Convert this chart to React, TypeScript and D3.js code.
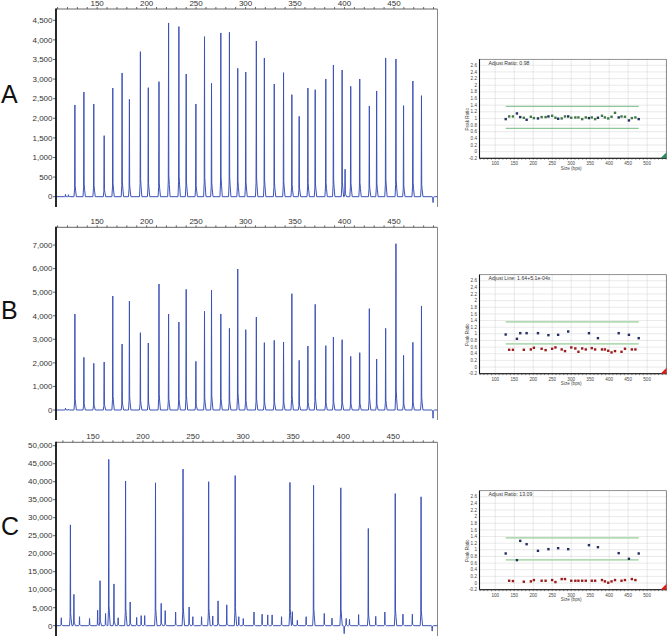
import React from "react";
import * as d3 from "d3";

// ladder fragment sizes (bp) shared by the three electropherograms
const ladderSizes = [127.5, 136.6, 146.6, 157.1, 165.8, 175.2, 182.6, 193.7, 201.7, 212.5, 222.2, 232.6, 240.0, 249.8, 258.5, 265.6, 275.0, 283.7, 292.1, 300.2, 310.9, 319.0, 329.0, 338.4, 346.8, 354.2, 363.0, 370.4, 381.1, 388.8, 397.6, 406.3, 415.4, 425.1, 432.5, 441.6, 452.0, 459.7, 469.1, 477.8];

const heightsA = [2340, 2670, 2365, 1557, 2773, 3156, 2484, 3700, 2781, 2935, 4432, 4338, 3130, 2365, 4083, 2892, 4177, 4194, 3275, 3181, 3972, 3539, 2875, 3164, 2603, 2050, 2773, 2730, 3003, 3360, 3232, 2815, 3003, 2314, 2697, 3539, 3513, 2323, 2952, 2577];
const heightsB = [4073, 2235, 1980, 2037, 4837, 2800, 4625, 3281, 2843, 5346, 4073, 3734, 5120, 2065, 4187, 5092, 4073, 3465, 5983, 3409, 3946, 2857, 2956, 2885, 4936, 2107, 2716, 4484, 2730, 3098, 2984, 2277, 2433, 4300, 2164, 3465, 7058, 2320, 2871, 4413];
const heightsC = [28000, 2500, 2000, 12500, 46200, 2200, 40200, 2300, 2800, 39700, 4200, 3800, 43500, 2500, 2500, 40000, 6900, 5800, 41700, 2000, 3800, 3200, 3000, 2500, 39800, 1500, 2500, 39000, 3400, 2100, 38300, 1800, 3100, 27000, 2600, 3800, 36700, 3200, 3200, 35800];

// extra (non-ladder) peaks and dips: [size, height]
const extraA: [number, number][] = [[118, 60], [121, 50], [400.6, 700], [489.5, -150]];
const extraB: [number, number][] = [[118, 80], [121, 40], [489.5, -350]];
const extraC: [number, number][] = [[118.4, 2200], [131.0, 8700], [154.7, 4300], [162.6, 3400], [171.0, 11600], [187.2, 6600], [198.2, 2800], [218.2, 6200], [246.1, 5200], [269.7, 2700], [295.7, 2500], [324.6, 3000], [349.2, 3900], [401.0, -2200], [403.0, 2000], [488.9, -1500]];

// peak ratio panels
const ratiosA = [0.98, 1.06, 1.06, 1.15, 1.04, 1.02, 0.96, 1.05, 1.01, 1.0, 1.04, 1.04, 1.06, 1.08, 1.02, 0.99, 1.0, 1.06, 1.06, 1.02, 1.03, 1.03, 0.98, 1.03, 1.01, 1.03, 0.98, 1.02, 1.08, 1.03, 1.0, 1.05, 1.17, 1.03, 1.06, 1.05, 0.94, 1.01, 1.03, 0.98];
const ratiosB = [0.98, 0.52, 0.52, 0.85, 1.02, 0.52, 1.02, 0.53, 0.58, 1.02, 0.55, 0.51, 0.96, 0.55, 0.59, 0.97, 0.53, 0.48, 1.07, 0.59, 0.56, 0.46, 0.56, 0.53, 1.02, 0.57, 0.53, 0.87, 0.53, 0.53, 0.49, 0.44, 0.48, 1.02, 0.46, 0.55, 0.97, 0.53, 0.53, 0.87];
const ratiosC = [0.89, 0.07, 0.06, 0.69, 1.27, 0.04, 1.17, 0.05, 0.09, 0.97, 0.07, 0.07, 1.02, 0.09, 0.03, 1.05, 0.12, 0.12, 1.02, 0.07, 0.07, 0.07, 0.07, 0.07, 1.14, 0.07, 0.07, 1.08, 0.09, 0.05, 0.01, 0.05, 0.09, 0.9, 0.07, 0.09, 0.73, 0.12, 0.09, 0.89];
const highGroup = [0, 3, 4, 6, 9, 12, 15, 18, 24, 27, 33, 36, 39];

const LEFT = 56;
const RIGHT = 437.5;
const FONT = "'Liberation Sans', Arial, sans-serif";
const peakShape = [[-0.9, 0], [-0.3, 0.09], [0, 1], [0.25, 0.12], [0.7, 0.07], [1.5, 0]];

function Trace({ top, bottom, xDomain, yDomain, yMax, yStep, heights, extra, letter, letterY }) {
  const x = d3.scaleLinear().domain(xDomain).range([LEFT, RIGHT]);
  const y = d3.scaleLinear().domain(yDomain).range([bottom, top]);
  const peaks = ladderSizes
    .map((s, i) => [s, heights[i]] as [number, number])
    .concat(extra)
    .sort((a, b) => a[0] - b[0]);
  const pts: [number, number][] = [[xDomain[0], 0]];
  peaks.forEach(([s, h]) => peakShape.forEach(([dx, f]) => pts.push([s + dx, h * f])));
  pts.push([xDomain[1], 0]);
  const line = d3.line<[number, number]>().x((d) => x(d[0])).y((d) => y(d[1]));
  const yTicks = d3.range(0, yMax + 1, yStep);
  const minor = d3.range(Math.ceil(xDomain[0] / 10) * 10, xDomain[1], 10);
  const fmt = d3.format(",");
  return (
    <g>
      <text x={1} y={letterY} fontSize={25} fontFamily={FONT} fill="#111">{letter}</text>
      <line x1={LEFT} x2={RIGHT} y1={top} y2={top} stroke="#666" strokeWidth={1} />
      <line x1={RIGHT} x2={RIGHT} y1={top} y2={bottom} stroke="#888" strokeWidth={1} />
      {minor.map((v) => (
        <line key={v} x1={x(v)} x2={x(v)} y1={top} y2={top - 2} stroke="#444" strokeWidth={0.8} />
      ))}
      {d3.range(150, 451, 50).map((v) => (
        <text key={v} x={x(v)} y={top - 3.5} fontSize={8} fontFamily={FONT} fill="#333" textAnchor="middle">{v}</text>
      ))}
      {yTicks.map((v) => (
        <g key={v}>
          <line x1={LEFT - 3} x2={LEFT} y1={y(v)} y2={y(v)} stroke="#444" strokeWidth={0.8} />
          <text x={LEFT - 3.5} y={y(v) + 2.8} fontSize={8} fontFamily={FONT} fill="#333" textAnchor="end">{fmt(v)}</text>
        </g>
      ))}
      <path d={line(pts) || ""} fill="none" stroke="#3c52b8" strokeWidth={1} strokeLinejoin="round" />
      <line x1={LEFT} x2={LEFT} y1={top - 0.5} y2={bottom} stroke="#111" strokeWidth={1.8} />
    </g>
  );
}

function Inset({ top, title, ratios, lowColor, guideColor, guideWidth, cornerColor }) {
  const L = 479.5;
  const R = 666.5;
  const B = top + 99;
  const x = d3.scaleLinear().domain([58.5, 551]).range([L, R]);
  const y = d3.scaleLinear().domain([-0.2, 2.78]).range([B, top]);
  const yTicks = d3.range(-0.2, 2.61, 0.2).map((v) => +v.toFixed(1));
  const xTicks = d3.range(100, 551, 50);
  const first = ladderSizes[0];
  const last = ladderSizes[ladderSizes.length - 1];
  return (
    <g fontFamily={FONT}>
      {yTicks.map((v) => (
        <g key={v}>
          <line x1={L} x2={R} y1={y(v)} y2={y(v)} stroke="#b8b8b8" strokeWidth={0.6} strokeDasharray="1,1" />
          <text x={L - 2.5} y={y(v) + 1.6} fontSize={4.6} fill="#444" textAnchor="end">{v}</text>
        </g>
      ))}
      {xTicks.map((v) => (
        <g key={v}>
          <line x1={x(v)} x2={x(v)} y1={top} y2={B} stroke="#b8b8b8" strokeWidth={0.6} strokeDasharray="1,1" />
          {v <= 500 && (
            <text x={x(v)} y={B + 6.8} fontSize={4.6} fill="#444" textAnchor="middle">{v}</text>
          )}
        </g>
      ))}
      {d3.range(60, 551, 10).map((v) => (
        <line key={v} x1={x(v)} x2={x(v)} y1={B} y2={B + 1.5} stroke="#333" strokeWidth={0.5} />
      ))}
      <line x1={x(first)} x2={x(last)} y1={y(1.36)} y2={y(1.36)} stroke={guideColor} strokeWidth={guideWidth} />
      <line x1={x(first)} x2={x(last)} y1={y(0.7)} y2={y(0.7)} stroke={guideColor} strokeWidth={guideWidth} />
      {ratios.map((r, i) => (
        <rect
          key={i}
          x={x(ladderSizes[i]) - 1.2}
          y={y(r) - 1.2}
          width={2.4}
          height={2.4}
          fill={highGroup.includes(i) ? "#24305e" : lowColor}
        />
      ))}
      <rect x={L} y={top} width={R - L} height={B - top} fill="none" stroke="#666" strokeWidth={0.7} />
      <line x1={L} x2={L} y1={top} y2={B} stroke="#111" strokeWidth={1.1} />
      <line x1={L} x2={R} y1={B} y2={B} stroke="#111" strokeWidth={1.1} />
      <polygon points={`${R},${B} ${R},${B - 6} ${R - 6},${B}`} fill={cornerColor} />
      <text x={L + 9} y={top + 5.2} fontSize={5.2} fill="#333">{title}</text>
      <text x={x(300)} y={B + 11.5} fontSize={4.6} fill="#444" textAnchor="middle">Size (bps)</text>
      <text transform={`translate(${L - 10.5},${top + 60}) rotate(-90)`} fontSize={4.6} fill="#444" textAnchor="middle">Peak Ratio</text>
    </g>
  );
}

export default function App() {
  return (
    <svg width={667} height={636} style={{ position: "absolute", left: 0, top: 0, background: "#fff" }}>
      <Trace top={9} bottom={207} xDomain={[108.4, 494]} yDomain={[-263, 4788]} yMax={4500} yStep={500} heights={heightsA} extra={extraA} letter="A" letterY={103} />
      <Trace top={227.3} bottom={420} xDomain={[108.4, 494]} yDomain={[-424, 7752]} yMax={7000} yStep={1000} heights={heightsB} extra={extraB} letter="B" letterY={319} />
      <Trace top={442.3} bottom={636} xDomain={[113.1, 494.2]} yDomain={[-2861, 50944]} yMax={50000} yStep={5000} heights={heightsC} extra={extraC} letter="C" letterY={535} />
      <Inset top={59.3} title="Adjust Ratio: 0.98" ratios={ratiosA} lowColor="#3f7a45" guideColor="#8fc79a" guideWidth={1.2} cornerColor="#2f8a5a" />
      <Inset top={274.7} title="Adjust Line: 1.64+5.1e-04x" ratios={ratiosB} lowColor="#9b1c1c" guideColor="#b3dbb3" guideWidth={1.8} cornerColor="#d42020" />
      <Inset top={490.7} title="Adjust Ratio: 13.09" ratios={ratiosC} lowColor="#9b1c1c" guideColor="#b3dbb3" guideWidth={1.8} cornerColor="#d42020" />
    </svg>
  );
}
